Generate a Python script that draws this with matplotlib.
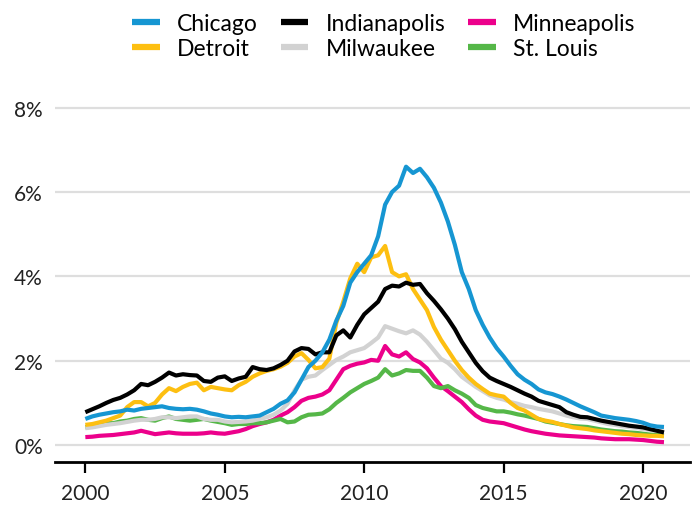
import matplotlib
matplotlib.use("Agg")
import matplotlib.pyplot as plt
import numpy as np

# quarterly dates 2000.00 .. 2020.75
years = [2000 + q * 0.25 for q in range(84)]

chicago = [0.62, 0.68, 0.72, 0.75, 0.78, 0.80, 0.84, 0.82, 0.86, 0.88, 0.90, 0.92,
           0.88, 0.86, 0.85, 0.86, 0.84, 0.80, 0.75, 0.72, 0.68, 0.66, 0.67, 0.66,
           0.68, 0.70, 0.78, 0.86, 0.98, 1.06, 1.25, 1.55, 1.85, 2.00, 2.20, 2.50,
           2.95, 3.30, 3.85, 4.10, 4.30, 4.50, 4.95, 5.70, 6.00, 6.15, 6.60, 6.45,
           6.55, 6.35, 6.10, 5.75, 5.30, 4.75, 4.10, 3.70, 3.20, 2.85, 2.55, 2.30,
           2.10, 1.88, 1.68, 1.55, 1.45, 1.32, 1.25, 1.21, 1.15, 1.08, 1.00, 0.92,
           0.85, 0.78, 0.70, 0.67, 0.64, 0.62, 0.60, 0.57, 0.53, 0.47, 0.44, 0.43]

detroit = [0.48, 0.50, 0.54, 0.58, 0.64, 0.70, 0.90, 1.02, 1.02, 0.92, 1.00, 1.20,
           1.35, 1.28, 1.38, 1.45, 1.48, 1.30, 1.38, 1.35, 1.32, 1.30, 1.42, 1.50,
           1.62, 1.70, 1.76, 1.80, 1.86, 1.95, 2.10, 2.18, 2.02, 1.82, 1.85, 2.05,
           2.90, 3.40, 3.95, 4.30, 4.10, 4.45, 4.50, 4.72, 4.10, 4.00, 4.05, 3.70,
           3.45, 3.20, 2.80, 2.50, 2.25, 2.00, 1.78, 1.60, 1.45, 1.33, 1.22, 1.18,
           1.15, 1.00, 0.88, 0.82, 0.72, 0.62, 0.58, 0.55, 0.50, 0.46, 0.42, 0.40,
           0.38, 0.35, 0.33, 0.31, 0.29, 0.27, 0.26, 0.24, 0.23, 0.22, 0.22, 0.21]

indianapolis = [0.78, 0.85, 0.92, 1.00, 1.07, 1.12, 1.20, 1.30, 1.45, 1.42, 1.50, 1.60,
                1.72, 1.65, 1.68, 1.66, 1.65, 1.52, 1.50, 1.60, 1.63, 1.52, 1.58, 1.62,
                1.85, 1.80, 1.78, 1.82, 1.90, 2.00, 2.22, 2.30, 2.28, 2.15, 2.20, 2.20,
                2.60, 2.72, 2.55, 2.85, 3.10, 3.25, 3.40, 3.70, 3.78, 3.76, 3.85, 3.80,
                3.82, 3.60, 3.42, 3.22, 3.00, 2.75, 2.45, 2.20, 1.95, 1.75, 1.60, 1.52,
                1.45, 1.38, 1.30, 1.22, 1.15, 1.05, 1.00, 0.95, 0.90, 0.78, 0.72, 0.67,
                0.66, 0.62, 0.58, 0.55, 0.52, 0.49, 0.46, 0.44, 0.42, 0.38, 0.34, 0.30]

milwaukee = [0.40, 0.42, 0.45, 0.48, 0.50, 0.52, 0.55, 0.58, 0.60, 0.60, 0.62, 0.66,
             0.66, 0.64, 0.66, 0.68, 0.68, 0.62, 0.60, 0.60, 0.56, 0.54, 0.55, 0.56,
             0.58, 0.62, 0.66, 0.72, 0.82, 0.98, 1.30, 1.55, 1.62, 1.65, 1.78, 1.90,
             2.02, 2.10, 2.20, 2.25, 2.30, 2.42, 2.55, 2.82, 2.76, 2.70, 2.65, 2.72,
             2.62, 2.45, 2.25, 2.05, 1.95, 1.80, 1.62, 1.50, 1.38, 1.28, 1.18, 1.12,
             1.08, 1.02, 0.98, 0.93, 0.90, 0.86, 0.83, 0.80, 0.75, 0.70, 0.66, 0.63,
             0.62, 0.58, 0.54, 0.50, 0.48, 0.45, 0.43, 0.41, 0.38, 0.36, 0.34, 0.32]

minneapolis = [0.19, 0.20, 0.22, 0.23, 0.24, 0.26, 0.28, 0.30, 0.34, 0.30, 0.26, 0.28,
               0.30, 0.28, 0.27, 0.27, 0.27, 0.28, 0.30, 0.28, 0.27, 0.30, 0.33, 0.38,
               0.45, 0.50, 0.54, 0.60, 0.70, 0.78, 0.90, 1.05, 1.12, 1.15, 1.20, 1.30,
               1.55, 1.80, 1.88, 1.93, 1.96, 2.02, 2.00, 2.35, 2.15, 2.10, 2.20, 2.04,
               1.96, 1.82, 1.60, 1.40, 1.28, 1.15, 1.02, 0.85, 0.70, 0.60, 0.56, 0.54,
               0.52, 0.47, 0.42, 0.37, 0.33, 0.30, 0.27, 0.25, 0.23, 0.22, 0.21, 0.20,
               0.19, 0.18, 0.16, 0.15, 0.14, 0.14, 0.14, 0.13, 0.12, 0.10, 0.08, 0.07]

st_louis = [0.42, 0.45, 0.50, 0.52, 0.52, 0.56, 0.58, 0.62, 0.64, 0.60, 0.58, 0.64,
            0.68, 0.62, 0.60, 0.58, 0.60, 0.62, 0.58, 0.55, 0.52, 0.48, 0.50, 0.50,
            0.52, 0.52, 0.54, 0.58, 0.62, 0.54, 0.56, 0.66, 0.72, 0.73, 0.75, 0.85,
            1.00, 1.12, 1.25, 1.35, 1.45, 1.52, 1.60, 1.80, 1.65, 1.70, 1.78, 1.76,
            1.76, 1.60, 1.40, 1.35, 1.40, 1.30, 1.22, 1.12, 0.95, 0.88, 0.84, 0.80,
            0.80, 0.77, 0.73, 0.70, 0.66, 0.62, 0.56, 0.53, 0.50, 0.47, 0.45, 0.44,
            0.43, 0.40, 0.37, 0.35, 0.33, 0.32, 0.30, 0.29, 0.27, 0.25, 0.24, 0.23]

series = [
    ("Chicago", chicago, "#1696d2"),
    ("Detroit", detroit, "#fdbf11"),
    ("Indianapolis", indianapolis, "#000000"),
    ("Milwaukee", milwaukee, "#d2d2d2"),
    ("Minneapolis", minneapolis, "#ec008b"),
    ("St. Louis", st_louis, "#55b748"),
]
draw_order = ["Chicago", "Indianapolis", "Detroit", "Milwaukee", "St. Louis", "Minneapolis"]

xticks = [2000, 2005, 2010, 2015, 2020]
yticks = [0, 2, 4, 6, 8]

plt.rcParams['font.family'] = ['Lato', 'DejaVu Sans']

fig = plt.figure(figsize=(6.99, 5.06), dpi=100)
ax = fig.add_axes([0.079, 0.085, 0.908, 0.717])

lookup = {n: (v, c) for n, v, c in series}
handles = {}
for i, name in enumerate(reversed(draw_order)):
    v, c = lookup[name]
    ln, = ax.plot(years, v, color=c, lw=3.0, label=name, zorder=3 + i,
                  solid_joinstyle='round', solid_capstyle='butt')
    handles[name] = ln

ax.set_xlim(1998.92, 2021.68)
ax.set_ylim(-0.40, 8.2)
ax.set_xticks(xticks)
ax.set_xticklabels([str(t) for t in xticks])
ax.set_yticks(yticks)
ax.set_yticklabels([f"{t}%" for t in yticks])

ax.grid(axis='y', color='#dedede', lw=1.6)
ax.set_axisbelow(True)
for s in ['left', 'right', 'top']:
    ax.spines[s].set_visible(False)
ax.spines['bottom'].set_linewidth(2)
ax.spines['bottom'].set_color('black')
ax.tick_params(axis='x', length=8, width=1.6, pad=7, labelsize=15, colors='black')
ax.tick_params(axis='y', length=0, pad=9, labelsize=15)
for lab in ax.get_yticklabels() + ax.get_xticklabels():
    lab.set_color('#222222')

order = ["Chicago", "Detroit", "Indianapolis", "Milwaukee", "Minneapolis", "St. Louis"]
leg = fig.legend([handles[n] for n in order], order, ncol=3, loc='upper center',
                 bbox_to_anchor=(0.549, 1.0), frameon=False, fontsize=16.5,
                 handlelength=1.2, handletextpad=0.75, columnspacing=1.0,
                 labelspacing=0.18, borderaxespad=0.2)
for lh in leg.get_lines():
    lh.set_linewidth(4.5)

fig.savefig("out.png", dpi=100)
